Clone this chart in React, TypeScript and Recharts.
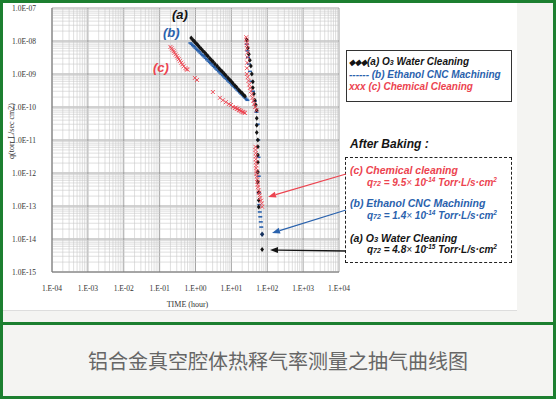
import React from "react";
import {
  CartesianGrid,
  ReferenceLine,
  Scatter,
  ScatterChart,
  XAxis,
  YAxis,
} from "recharts";

// axis ticks (decades)
const timeTicks = [1e-4, 1e-3, 1e-2, 1e-1, 1, 10, 100, 1000, 10000];
const rateTicks = [1e-15, 1e-14, 1e-13, 1e-12, 1e-11, 1e-10, 1e-9, 1e-8, 1e-7];
const minorSteps = [2, 3, 4, 5, 6, 7, 8, 9];

// (a) O3 water cleaning - black diamonds
const o3Time = [
  0.76, 0.85, 0.93, 1.0, 1.1, 1.2, 1.3, 1.45, 1.6, 1.8, 2.0, 2.2, 2.5, 2.8,
  3.1, 3.5, 4.0, 4.5, 5.0, 5.6, 6.3, 7.0, 8.0, 9.0, 10, 11, 12.5, 14, 16, 18,
  20, 22, 24, 27, 28.8, 30.7, 32.7, 34.9, 37.2, 39.7, 39.7, 42.4, 45, 48, 51,
  51, 51, 51, 54.7, 54.7, 54.7, 54.7, 54.7, 54.7, 58, 58, 58,
];
const o3Rate = [
  1.23e-8, 1.08e-8, 9.7e-9, 8.9e-9, 8.0e-9, 7.2e-9, 6.5e-9, 5.7e-9, 5.1e-9,
  4.45e-9, 3.9e-9, 3.5e-9, 3.0e-9, 2.6e-9, 2.35e-9, 2.0e-9, 1.74e-9, 1.5e-9,
  1.33e-9, 1.17e-9, 1.01e-9, 9.0e-10, 7.65e-10, 6.65e-10, 5.9e-10, 5.25e-10,
  4.5e-10, 3.95e-10, 3.35e-10, 2.9e-10, 2.6e-10, 2.3e-10, 2.1e-10, 1.07e-8,
  6.1e-9, 4.0e-9, 2.6e-9, 1.75e-9, 1.0e-9, 5.8e-10, 3.8e-10, 2.5e-10, 1.6e-10,
  1.15e-10, 8e-11, 4.6e-11, 2.8e-11, 1.7e-11, 1.0e-11, 6.2e-12, 3.5e-12,
  2.1e-12, 1.07e-12, 5.4e-13, 2.6e-13, 1.5e-13, 9.3e-14,
];
const o3Final = { t: 72, q: 4.8e-15 };

// (b) ethanol CNC machining - blue dashes
const etTime = [
  0.72, 0.78, 0.85, 0.92, 1.0, 1.08, 1.17, 1.27, 1.38, 1.5, 1.63, 1.77, 1.92,
  2.1, 2.3, 2.5, 2.7, 2.95, 3.2, 3.5, 3.8, 4.1, 4.5, 4.9, 5.3, 5.8, 6.3, 6.8,
  7.4, 8.1, 8.8, 9.6, 10.5, 11.4, 12.4, 13.5, 14.7, 16, 17.5, 19, 20.7, 22.5,
  24.5, 26.5, 28, 27, 28, 29, 31, 33, 36, 40, 45, 50, 54, 56, 57, 58, 58, 60,
  62, 64, 66, 68,
];
const etRate = [
  8.7e-9, 8.0e-9, 7.3e-9, 6.7e-9, 6.1e-9, 5.6e-9, 5.15e-9, 4.7e-9, 4.3e-9,
  3.9e-9, 3.6e-9, 3.3e-9, 3.0e-9, 2.7e-9, 2.46e-9, 2.25e-9, 2.07e-9, 1.88e-9,
  1.72e-9, 1.56e-9, 1.42e-9, 1.31e-9, 1.18e-9, 1.08e-9, 9.9e-10, 9.0e-10,
  8.2e-10, 7.5e-10, 6.9e-10, 6.2e-10, 5.7e-10, 5.2e-10, 4.7e-10, 4.3e-10,
  3.9e-10, 3.6e-10, 3.26e-10, 2.97e-10, 2.7e-10, 2.46e-10, 2.24e-10, 2.05e-10,
  1.87e-10, 1.71e-10, 1.6e-10, 8e-9, 5e-9, 3.2e-9, 2e-9, 1.2e-9, 6e-10, 3e-10,
  1.5e-10, 7e-11, 3e-11, 1e-11, 3e-12, 8e-13, 2.5e-13, 1.1e-13, 6.6e-14,
  4.7e-14, 3.3e-14, 2.3e-14,
];
const etFinal = { t: 72, q: 1.4e-14 };

// (c) chemical cleaning - red crosses
const chTime = [
  0.2, 0.215, 0.23, 0.245, 0.26, 0.28, 0.3, 0.32, 0.34, 0.37, 0.4, 0.43, 0.47,
  0.52, 0.56, 0.6, 0.96, 1.1, 3.05, 4.8, 5.8, 7.0, 8.5, 9.7, 11, 12.5, 13.3,
  14.2, 15.2, 16.2, 17.3, 18.4, 19.6, 21, 22.4, 23.8, 26, 26.5, 27, 27, 27.5,
  28, 28, 27.5, 27, 27, 28.5, 30, 31.5, 33, 35, 37, 39, 41, 43, 46, 50, 47, 47,
  47.5, 48, 48, 48.5, 49, 49, 50, 50, 51, 52, 53, 54, 55, 57, 59, 61, 64, 67,
  70, 72,
];
const chRate = [
  6.6e-9, 6.0e-9, 5.4e-9, 4.9e-9, 4.4e-9, 3.9e-9, 3.5e-9, 3.1e-9, 2.8e-9,
  2.5e-9, 2.2e-9, 1.95e-9, 1.7e-9, 1.5e-9, 1.4e-9, 1.35e-9, 7.6e-10, 6.6e-10,
  2.85e-10, 1.9e-10, 1.6e-10, 1.4e-10, 1.23e-10, 1.15e-10, 1.0e-10, 9.3e-11,
  9.6e-11, 8.7e-11, 8.9e-11, 8.1e-11, 7.9e-11, 7.6e-11, 7.2e-11, 7.1e-11,
  6.8e-11, 6.6e-11, 1.3e-8, 1.1e-8, 9e-9, 7.5e-9, 6e-9, 4.5e-9, 3.2e-9, 2.2e-9,
  1.5e-9, 1.0e-9, 8e-10, 6.2e-10, 4.8e-10, 3.8e-10, 3.0e-10, 2.4e-10, 1.9e-10,
  1.55e-10, 1.25e-10, 1.0e-10, 8e-11, 6.2e-12, 5.0e-12, 4.0e-12, 3.2e-12,
  2.6e-12, 2.1e-12, 1.7e-12, 1.4e-12, 1.15e-12, 9.5e-13, 7.8e-13, 6.4e-13,
  5.3e-13, 4.4e-13, 3.7e-13, 3.0e-13, 2.5e-13, 2.1e-13, 1.75e-13, 1.45e-13,
  1.2e-13, 9.5e-14,
];

const BLACK = "#141414";
const BLUE = "#2a62ad";
const RED = "#ec4450";
const GREEN = "#1c7f30";

const toPoints = (ts: number[], qs: number[]) =>
  ts.map((t, i) => ({ t, q: qs[i] }));

const o3Data = toPoints(o3Time, o3Rate);
const etData = toPoints(etTime, etRate);
const chData = toPoints(chTime, chRate);

const minorTimes = timeTicks
  .slice(0, -1)
  .flatMap((d) => minorSteps.map((k) => k * d));
const minorRates = rateTicks
  .slice(0, -1)
  .flatMap((d) => minorSteps.map((k) => k * d));

const exp10 = (v: number) => Math.round(Math.log10(v));
const fmtTime = (v: number) => {
  const e = exp10(v);
  return `1.E${e < 0 ? "-" : "+"}${String(Math.abs(e)).padStart(2, "0")}`;
};
const fmtRate = (v: number) =>
  `1.0E-${String(Math.abs(exp10(v))).padStart(2, "0")}`;

const Diamond = (p: any) => (
  <path
    d={`M${p.cx},${p.cy - 2.5}L${p.cx + 1.9},${p.cy}L${p.cx},${p.cy + 2.5}L${p.cx - 1.9},${p.cy}Z`}
    fill={BLACK}
  />
);
const NavyDiamond = (p: any) => (
  <path
    d={`M${p.cx},${p.cy - 2.8}L${p.cx + 2.2},${p.cy}L${p.cx},${p.cy + 2.8}L${p.cx - 2.2},${p.cy}Z`}
    fill="#17325e"
  />
);
const Dash = (p: any) => (
  <rect x={p.cx - 2} y={p.cy - 0.8} width={4} height={1.6} fill={BLUE} />
);
const Cross = (p: any) => (
  <path
    d={`M${p.cx - 2},${p.cy - 2}L${p.cx + 2},${p.cy + 2}M${p.cx - 2},${p.cy + 2}L${p.cx + 2},${p.cy - 2}`}
    stroke={RED}
    strokeWidth={0.9}
    fill="none"
  />
);

const tickFont = { fontFamily: "Liberation Serif", fontSize: 7.5, fill: "#333" };
const sans = "'Liberation Sans', Arial, sans-serif";

function Arrow({ x1, y1, x2, y2, color }: any) {
  const a = Math.atan2(y2 - y1, x2 - x1);
  const len = 8;
  const w = 3;
  const bx = x2 - len * Math.cos(a);
  const by = y2 - len * Math.sin(a);
  const px = -Math.sin(a) * w;
  const py = Math.cos(a) * w;
  return (
    <g>
      <line x1={x1} y1={y1} x2={bx} y2={by} stroke={color} strokeWidth={1.3} />
      <polygon
        points={`${x2},${y2} ${bx + px},${by + py} ${bx - px},${by - py}`}
        fill={color}
      />
    </g>
  );
}

function Txt({ x, y, size, color, children, weight = 700 }: any) {
  return (
    <div
      style={{
        position: "absolute",
        left: x,
        top: y - size * 0.56,
        fontFamily: sans,
        fontStyle: "italic",
        fontWeight: weight,
        fontSize: size,
        lineHeight: 1,
        color,
        whiteSpace: "nowrap",
      }}
    >
      {children}
    </div>
  );
}

const Q = ({ v, e }: { v: string; e: string }) => (
  <>
    q<span style={{ fontSize: 7 }}>72</span> = {v}
    <span style={{ fontWeight: 400 }}>×</span> 10
    <sup style={{ fontSize: 6.5, verticalAlign: 4 }}>{e}</sup> Torr·L/s·cm
    <sup style={{ fontSize: 6.5, verticalAlign: 4 }}>2</sup>
  </>
);

export default function App() {
  return (
    <div
      style={{
        position: "absolute",
        left: 0,
        top: 0,
        width: 556,
        height: 399,
        background: "#f4f4f2",
        overflow: "hidden",
      }}
    >
      <div
        style={{
          position: "absolute",
          left: 3,
          top: 3,
          width: 514,
          height: 307,
          background: "#fff",
          borderBottom: "1px solid #ddd",
        }}
      />
      <div style={{ position: "absolute", left: 0, top: 0 }}>
        <ScatterChart
          width={556}
          height={315}
          margin={{ top: 8, right: 217, bottom: 3, left: 0 }}
        >
          <CartesianGrid stroke="#8e8e8e" strokeWidth={0.8} />
          {minorTimes.map((v) => (
            <ReferenceLine
              key={`vx${v}`}
              x={v}
              stroke="#c9c9c9"
              strokeWidth={0.6}
            />
          ))}
          {minorRates.map((v) => (
            <ReferenceLine
              key={`hy${v}`}
              y={v}
              stroke="#c9c9c9"
              strokeWidth={0.6}
            />
          ))}
          <XAxis
            type="number"
            dataKey="t"
            scale="log"
            domain={[1e-4, 1e4]}
            allowDataOverflow
            ticks={timeTicks}
            interval={0}
            tickFormatter={fmtTime}
            tick={tickFont}
            tickLine={false}
            tickMargin={8}
            axisLine={{ stroke: "#7a7a7a" }}
            height={40}
            label={{
              value: "TIME (hour)",
              position: "insideBottom",
              offset: 5,
              dx: -8,
              style: { fontFamily: "Liberation Serif", fontSize: 8, fill: "#333" },
            }}
          />
          <YAxis
            type="number"
            dataKey="q"
            scale="log"
            domain={[1e-15, 1e-7]}
            allowDataOverflow
            ticks={rateTicks}
            interval={0}
            tickFormatter={fmtRate}
            tick={tickFont}
            tickLine={false}
            tickMargin={10}
            axisLine={{ stroke: "#7a7a7a" }}
            width={52}
          />
          <Scatter
            data={etData}
            dataKey="q"
            shape={Dash}
            isAnimationActive={false}
          />
          <Scatter
            data={[etFinal]}
            dataKey="q"
            shape={NavyDiamond}
            isAnimationActive={false}
          />
          <Scatter
            data={o3Data}
            dataKey="q"
            shape={Diamond}
            isAnimationActive={false}
          />
          <Scatter
            data={[o3Final]}
            dataKey="q"
            shape={Diamond}
            isAnimationActive={false}
          />
          <Scatter
            data={chData}
            dataKey="q"
            shape={Cross}
            isAnimationActive={false}
          />
        </ScatterChart>
      </div>

      <div
        style={{
          position: "absolute",
          left: 12 - 50,
          top: 131 - 5,
          width: 100,
          height: 10,
          lineHeight: "10px",
          textAlign: "center",
          transform: "rotate(-90deg)",
          fontFamily: "'Liberation Serif', serif",
          fontSize: 8,
          color: "#333",
          whiteSpace: "nowrap",
        }}
      >
        q(torr L/sec cm2)
      </div>

      <Txt x={172} y={15} size={13} color={BLACK}>(a)</Txt>
      <Txt x={163} y={33} size={13} color={BLUE}>(b)</Txt>
      <Txt x={153} y={68} size={13} color={RED}>(c)</Txt>

      <div
        style={{
          position: "absolute",
          left: 346,
          top: 50,
          width: 164,
          height: 50,
          border: "1px solid #333",
          background: "#fff",
        }}
      />
      <Txt x={349} y={63} size={10} color={BLACK}>
        <span style={{ fontSize: 8 }}>◆◆◆</span>(a) O
        <span style={{ fontSize: 7 }}>3</span> Water Cleaning
      </Txt>
      <Txt x={349} y={75.5} size={10} color={BLUE}>
        ------ (b) Ethanol CNC Machining
      </Txt>
      <Txt x={349} y={88} size={10} color={RED}>
        xxx (c) Chemical Cleaning
      </Txt>

      <Txt x={350} y={145} size={12} color={BLACK}>After Baking :</Txt>
      <div
        style={{
          position: "absolute",
          left: 345,
          top: 157,
          width: 165,
          height: 104,
          border: "1.5px dashed #222",
        }}
      />
      <Txt x={350} y={171} size={10.5} color={RED}>(c) Chemical cleaning</Txt>
      <Txt x={367} y={183} size={10} color={RED}>
        <Q v="9.5" e="-14" />
      </Txt>
      <Txt x={350} y={204} size={10.5} color={BLUE}>(b) Ethanol CNC Machining</Txt>
      <Txt x={367} y={216} size={10} color={BLUE}>
        <Q v="1.4" e="-14" />
      </Txt>
      <Txt x={350} y={239} size={10.5} color={BLACK}>
        (a) O<span style={{ fontSize: 7.5 }}>3</span> Water Cleaning
      </Txt>
      <Txt x={367} y={250} size={10} color={BLACK}>
        <Q v="4.8" e="-15" />
      </Txt>

      <svg
        width={556}
        height={399}
        style={{ position: "absolute", left: 0, top: 0, pointerEvents: "none" }}
      >
        <Arrow x1={346} y1={174} x2={268} y2={197} color={RED} />
        <Arrow x1={346} y1={210} x2={272} y2={233} color={BLUE} />
        <Arrow x1={346} y1={251} x2={270} y2={250} color={BLACK} />
      </svg>

      <div
        style={{
          position: "absolute",
          left: 0,
          top: 322,
          width: 556,
          height: 3,
          background: GREEN,
        }}
      />
      <div
        style={{
          position: "absolute",
          left: 0,
          top: 325,
          width: 556,
          height: 71,
          display: "flex",
          alignItems: "center",
          justifyContent: "center",
          fontFamily: "'Noto Sans CJK SC', sans-serif",
          fontSize: 20,
          color: "#666",
        }}
      >
        铝合金真空腔体热释气率测量之抽气曲线图
      </div>
      <div
        style={{
          position: "absolute",
          left: 0,
          top: 0,
          width: 556,
          height: 399,
          boxSizing: "border-box",
          border: `3px solid ${GREEN}`,
          pointerEvents: "none",
        }}
      />
    </div>
  );
}
